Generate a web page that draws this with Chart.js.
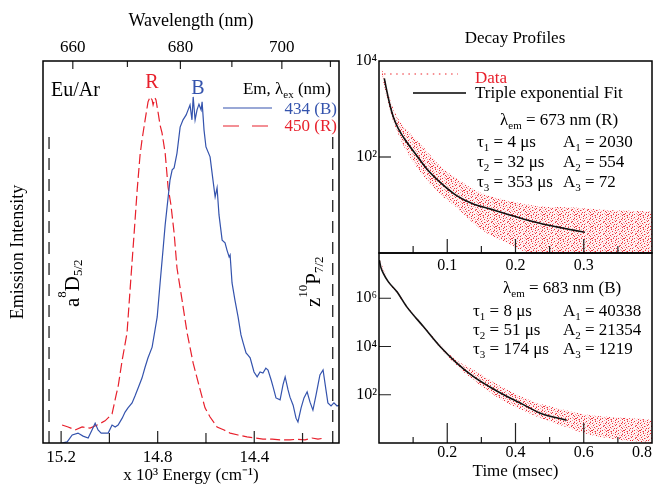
<!DOCTYPE html>
<html>
<head>
<meta charset="utf-8">
<script src="https://cdn.jsdelivr.net/npm/chart.js@4.4.1/dist/chart.umd.min.js"></script>
<style>
html, body { margin: 0; padding: 0; background: #fff; }
#wrap { position: relative; width: 657px; height: 487px; }
#wrap canvas { position: absolute; left: 0; top: 0; }
</style>
</head>
<body>
<div id="wrap">
<canvas id="spec" width="657" height="487"></canvas>
<canvas id="decayR" width="657" height="487"></canvas>
<canvas id="decayB" width="657" height="487"></canvas>
</div>
<script>
// emission spectra: energy in 10^3 cm^-1, intensity normalised
const redEnergy = [15.196, 15.171, 15.142, 15.113, 15.080, 15.051, 15.018, 14.989, 14.972, 14.964,
  14.947, 14.927, 14.910, 14.898, 14.885, 14.873, 14.865, 14.852, 14.844, 14.840,
  14.831, 14.823, 14.819, 14.811, 14.807, 14.798, 14.790, 14.782, 14.769, 14.757,
  14.745, 14.732, 14.720, 14.699, 14.678, 14.653, 14.624, 14.604, 14.583, 14.554,
  14.525, 14.500, 14.467, 14.430, 14.397, 14.364, 14.326, 14.293, 14.252, 14.223,
  14.190, 14.161, 14.136, 14.111];
const redIntensity = [0.047, 0.042, 0.034, 0.042, 0.039, 0.047, 0.058, 0.076, 0.126, 0.147,
  0.217, 0.288, 0.440, 0.545, 0.662, 0.754, 0.793, 0.846, 0.877, 0.893,
  0.906, 0.898, 0.885, 0.903, 0.898, 0.864, 0.832, 0.812, 0.759, 0.670,
  0.623, 0.550, 0.458, 0.374, 0.288, 0.209, 0.139, 0.092, 0.068, 0.042,
  0.034, 0.026, 0.021, 0.016, 0.013, 0.010, 0.010, 0.008, 0.008, 0.010,
  0.008, 0.013, 0.010, 0.013];

const blueEnergy = [15.196, 15.175, 15.154, 15.130, 15.109, 15.088, 15.072, 15.059, 15.047, 15.034,
  15.018, 15.005, 14.989, 14.976, 14.964, 14.947, 14.935, 14.923, 14.906, 14.894,
  14.881, 14.865, 14.852, 14.840, 14.823, 14.811, 14.802, 14.790, 14.778, 14.769,
  14.761, 14.749, 14.740, 14.732, 14.720, 14.707, 14.695, 14.682, 14.674, 14.666,
  14.658, 14.653, 14.645, 14.637, 14.629, 14.620, 14.616, 14.608, 14.600, 14.583,
  14.571, 14.562, 14.554, 14.546, 14.533, 14.521, 14.513, 14.504, 14.500, 14.492,
  14.480, 14.467, 14.455, 14.446, 14.434, 14.426, 14.417, 14.401, 14.388, 14.376,
  14.364, 14.352, 14.343, 14.330, 14.322, 14.310, 14.293, 14.281, 14.272, 14.260,
  14.252, 14.239, 14.227, 14.219, 14.206, 14.194, 14.181, 14.169, 14.157, 14.144,
  14.136, 14.128, 14.115, 14.103, 14.095, 14.082, 14.070, 14.057, 14.049];
const blueIntensity = [0.000, 0.003, 0.021, 0.026, 0.018, 0.013, 0.034, 0.052, 0.034, 0.026,
  0.026, 0.026, 0.047, 0.042, 0.047, 0.065, 0.081, 0.092, 0.105, 0.123,
  0.144, 0.170, 0.199, 0.223, 0.251, 0.296, 0.330, 0.419, 0.505, 0.571,
  0.618, 0.688, 0.715, 0.720, 0.759, 0.827, 0.846, 0.859, 0.872, 0.885,
  0.846, 0.906, 0.846, 0.872, 0.887, 0.872, 0.893, 0.819, 0.775, 0.749,
  0.688, 0.644, 0.668, 0.597, 0.531, 0.524, 0.505, 0.487, 0.492, 0.419,
  0.374, 0.330, 0.283, 0.262, 0.236, 0.230, 0.223, 0.186, 0.173, 0.186,
  0.183, 0.196, 0.191, 0.165, 0.147, 0.118, 0.113, 0.152, 0.173, 0.139,
  0.120, 0.099, 0.065, 0.055, 0.092, 0.118, 0.134, 0.107, 0.086, 0.126,
  0.152, 0.178, 0.191, 0.139, 0.105, 0.097, 0.105, 0.097, 0.099];

// atomic levels a8D5/2 and z10P7/2 (dashed markers)
const levelEnergy = [15.25, 14.075];
const levelRange = [0, 0.82];

// spectrum axes
const energyRange = [14.049, 15.275];
const energyTicks = [15.2, 15.0, 14.8, 14.6, 14.4, 14.2];
const energyLabels = ['15.2', '', '14.8', '', '14.4', ''];
const wavelengthTicks = [660, 670, 680, 690, 700, 710];
const wavelengthLabels = ['660', '', '680', '', '700', ''];

// decay 673 nm (R): time in msec, counts
const fitRTime = [0.0078, 0.0112, 0.0161, 0.0210, 0.0283, 0.0405, 0.0551, 0.0698, 0.0893, 0.1137,
  0.1381, 0.1625, 0.1869, 0.2113, 0.2357, 0.2602, 0.2845, 0.3016];
const fitRCounts = [4350, 2470, 1200, 684, 391, 205, 108, 57, 30, 15.7,
  10.5, 8.3, 6.5, 5.1, 4.15, 3.5, 3.0, 2.7];
const dataRTime = [0.004, 0.012, 0.020, 0.030, 0.041, 0.055, 0.065, 0.089, 0.114, 0.138,
  0.160, 0.187, 0.210, 0.236, 0.284, 0.333, 0.400];
const dataRHigh = [7080, 2820, 1120, 562, 363, 224, 162, 66, 35.5, 21.4,
  15.8, 12.6, 10.7, 9.3, 8.9, 7.9, 7.4];
const dataRLow = [5250, 1580, 603, 263, 126, 63, 40, 17, 8.9, 4.2,
  2.5, 1.66, 1.12, 1, 1, 1, 1];

// decay 683 nm (B)
const fitBTime = [0.001, 0.005, 0.0127, 0.027, 0.052, 0.081, 0.130, 0.179, 0.228, 0.276,
  0.325, 0.374, 0.423, 0.471, 0.550];
const fitBCounts = [3.8e7, 2.0e7, 1.08e7, 4.9e6, 1.9e6, 4.5e5, 6.7e4, 1.0e4, 2060, 575,
  209, 86, 39, 17.7, 8.7];
const dataBTime = [0.002, 0.027, 0.052, 0.081, 0.130, 0.179, 0.228, 0.276, 0.325, 0.374,
  0.423, 0.471, 0.550, 0.618, 0.715, 0.800];
const dataBHigh = [4.2e7, 5.5e6, 2.1e6, 5.0e5, 7.5e4, 1.2e4, 2600, 1100, 420, 166,
  76, 42, 22, 14, 11, 9];
const dataBLow = [3.4e7, 4.4e6, 1.7e6, 4.0e5, 6.0e4, 8.5e3, 1600, 420, 125, 48,
  22, 11, 4.5, 2.2, 1.3, 1];

// decay axes
const timeTicksR = [0.05, 0.1, 0.15, 0.2, 0.25, 0.3, 0.35];
const timeLabelTicksR = [0.1, 0.2, 0.3];
const timeLabelsR = ['0.1', '0.2', '0.3'];
const timeTicksB = [0.1, 0.2, 0.3, 0.4, 0.5, 0.6, 0.7];
const timeLabelTicksB = [0, 0.2, 0.4, 0.6, 0.8];
const timeLabelsB = ['', '0.2', '0.4', '0.6', '0.8'];
const countTicksR = [100, 10000];
const countLabelsR = ['10²', '10⁴'];
const countTicksB = [100, 10000, 1000000];
const countLabelsB = ['10²', '10⁴', '10⁶'];

const serif = '"Liberation Serif", "Times New Roman", serif';
const red = '#e8202c';
const blue = '#3453ad';
Chart.defaults.font.family = serif;
Chart.defaults.color = '#000';

function pairs(xs, ys) {
  return xs.map((x, i) => ({ x: x, y: ys[i] }));
}

// tile for the cloud of data dots: '#' strong red, '+' pale red
const dotTile = [
  '#..+...#....+...',
  '...#.+....#...+.',
  '.+.....#.+....#.',
  '#...#......+.#..',
  '..+...+.#.....+.',
  '.#.....#...+#...',
  '....#+.....#...+',
  '+.#......+...#..',
  '...+..#.#.....#.',
  '.#...+......+...',
  '#....#..+.#..+.#',
  '..+#....#.....#.'
];

function speckle() {
  const c = document.createElement('canvas');
  c.width = dotTile[0].length; c.height = dotTile.length;
  const g = c.getContext('2d');
  g.fillStyle = 'rgba(255,160,160,0.14)';
  g.fillRect(0, 0, c.width, c.height);
  dotTile.forEach((row, y) => {
    for (let x = 0; x < row.length; x++) {
      if (row[x] === '.') continue;
      g.fillStyle = row[x] === '#' ? 'rgba(236,30,42,0.9)' : 'rgba(245,100,105,0.6)';
      g.fillRect(x, y, 1, 1);
    }
  });
  return g.createPattern(c, 'repeat');
}

// text with sub/superscripts
function rich(ctx, x, y, parts, size, color, align, sup, sub) {
  sup = sup || -0.42; sub = sub || 0.22;
  const fontOf = m => (m ? Math.round(size * 0.64) : size) + 'px ' + serif;
  const widths = parts.map(p => { ctx.font = fontOf(p[1]); return ctx.measureText(p[0]).width; });
  const total = widths.reduce((a, b) => a + b, 0);
  let cx = align === 'right' ? x - total : align === 'center' ? x - total / 2 : x;
  ctx.save();
  ctx.fillStyle = color;
  ctx.textAlign = 'left';
  ctx.textBaseline = 'alphabetic';
  parts.forEach((p, i) => {
    ctx.font = fontOf(p[1]);
    const dy = p[1] === 'sup' ? size * sup : p[1] === 'sub' ? size * sub : 0;
    ctx.fillText(p[0], cx, y + dy);
    cx += widths[i];
  });
  ctx.restore();
}

function segment(ctx, x1, y1, x2, y2, color, width, dash) {
  ctx.save();
  ctx.strokeStyle = color;
  ctx.lineWidth = width;
  ctx.setLineDash(dash || []);
  ctx.beginPath();
  ctx.moveTo(x1, y1);
  ctx.lineTo(x2, y2);
  ctx.stroke();
  ctx.restore();
}

// inward tick marks
function tickMarks(ctx, scale, list, side) {
  ctx.save();
  ctx.strokeStyle = '#222';
  ctx.lineWidth = 1.2;
  ctx.beginPath();
  list.forEach(([v, len]) => {
    const p = scale.getPixelForValue(v);
    if (side === 'bottom') { ctx.moveTo(p, scale.top); ctx.lineTo(p, scale.top - len); }
    if (side === 'top') { ctx.moveTo(p, scale.bottom); ctx.lineTo(p, scale.bottom + len); }
    if (side === 'left') { ctx.moveTo(scale.right, p); ctx.lineTo(scale.right + len, p); }
  });
  ctx.stroke();
  ctx.restore();
}

function frame(chart) {
  const a = chart.chartArea, ctx = chart.ctx;
  ctx.save();
  ctx.strokeStyle = '#000';
  ctx.lineWidth = 1.5;
  ctx.strokeRect(a.left, a.top, a.right - a.left, a.bottom - a.top);
  ctx.restore();
}

function fixedSize(w, h) {
  return s => {
    if (w) s.width = w;
    if (h) s.height = h;
    s.paddingLeft = 0; s.paddingRight = 0;
  };
}

const noGrid = { display: false, drawTicks: false };
const noBorder = { display: false };

// ---------- emission spectra ----------
new Chart(document.getElementById('spec'), {
  type: 'line',
  data: {
    datasets: [
      { data: pairs(blueEnergy, blueIntensity), borderColor: blue, borderWidth: 1.2, pointRadius: 0 },
      { data: pairs(redEnergy, redIntensity), borderColor: red, borderWidth: 1.2, borderDash: [10, 4], pointRadius: 0 },
      { data: levelRange.map(v => ({ x: levelEnergy[0], y: v })), borderColor: '#222', borderWidth: 1.3, borderDash: [12, 9], pointRadius: 0 },
      { data: levelRange.map(v => ({ x: levelEnergy[1], y: v })), borderColor: '#222', borderWidth: 1.3, borderDash: [12, 9], pointRadius: 0 }
    ]
  },
  options: {
    responsive: false,
    animation: false,
    layout: { padding: { left: 0, right: 318, top: 0, bottom: 0 } },
    plugins: { legend: { display: false }, tooltip: { enabled: false } },
    scales: {
      x: {
        type: 'linear', position: 'bottom', reverse: true,
        min: energyRange[0], max: energyRange[1],
        grid: noGrid, border: noBorder,
        afterBuildTicks: s => { s.ticks = energyTicks.map(v => ({ value: v })); },
        afterFit: fixedSize(0, 44),
        ticks: { padding: 4, font: { size: 17 }, maxRotation: 0, autoSkip: false, callback: (v, i) => energyLabels[i] },
        title: { display: true, text: 'x 10³ Energy (cm⁻¹)', font: { size: 17 }, padding: { top: 0, bottom: 1 } }
      },
      x2: {
        type: 'linear', position: 'top', reverse: true,
        min: energyRange[0], max: energyRange[1],
        grid: noGrid, border: noBorder,
        afterBuildTicks: s => { s.ticks = wavelengthTicks.map(w => ({ value: 1e4 / w })); },
        afterFit: fixedSize(0, 61),
        ticks: { padding: 3, font: { size: 17 }, maxRotation: 0, autoSkip: false, callback: (v, i) => wavelengthLabels[i] },
        title: { display: true, text: 'Wavelength (nm)', font: { size: 18 }, padding: { top: 10, bottom: 0 } }
      },
      y: {
        min: 0, max: 1,
        grid: noGrid, border: noBorder,
        ticks: { display: false },
        afterFit: fixedSize(43, 0),
        title: { display: true, text: 'Emission Intensity', font: { size: 18 }, padding: { top: 7, bottom: 0 } }
      }
    }
  },
  plugins: [{
    id: 'specDecor',
    afterDatasetsDraw(chart) {
      const ctx = chart.ctx;
      tickMarks(ctx, chart.scales.x, energyTicks.map((v, i) => [v, energyLabels[i] ? 12 : 10]), 'bottom');
      tickMarks(ctx, chart.scales.x2, wavelengthTicks.map((w, i) => [1e4 / w, wavelengthLabels[i] ? 8 : 6]), 'top');
      frame(chart);
    },
    afterDraw(chart) {
      const ctx = chart.ctx;
      rich(ctx, 51, 96, [['Eu/Ar', '']], 20, '#000');
      rich(ctx, 152, 88, [['R', '']], 20, red, 'center');
      rich(ctx, 198, 94, [['B', '']], 20, blue, 'center');
      rich(ctx, 331, 94, [['Em, λ', ''], ['ex', 'sub'], [' (nm)', '']], 17, '#000', 'right');
      segment(ctx, 223, 108, 272, 108, blue, 1.2);
      rich(ctx, 337, 114, [['434 (B)', '']], 17, blue, 'right');
      segment(ctx, 223, 126, 272, 126, red, 1.2, [16, 13]);
      rich(ctx, 337, 131, [['450 (R)', '']], 17, red, 'right');
      ctx.save();
      ctx.translate(79, 307);
      ctx.rotate(-Math.PI / 2);
      rich(ctx, 0, 0, [['a', ''], ['8', 'sup'], ['D', ''], ['5/2', 'sub']], 21, '#000', 'left', -0.6, 0.15);
      ctx.restore();
      ctx.save();
      ctx.translate(320, 307);
      ctx.rotate(-Math.PI / 2);
      rich(ctx, 0, 0, [['z', ''], ['10', 'sup'], ['P', ''], ['7/2', 'sub']], 21, '#000', 'left', -0.6, 0.15);
      ctx.restore();
    }
  }]
});

// ---------- decay profiles ----------
const dots = speckle();

function decayDatasets(fitT, fitC, dataT, hi, lo) {
  return [
    { data: pairs(fitT, fitC), borderColor: '#111', borderWidth: 1.6, pointRadius: 0, cubicInterpolationMode: 'monotone' },
    { data: pairs(dataT, hi), borderColor: 'rgba(0,0,0,0)', pointRadius: 0, tension: 0.3, fill: false },
    { data: pairs(dataT, lo), borderColor: 'rgba(0,0,0,0)', pointRadius: 0, tension: 0.3, fill: '-1', backgroundColor: dots }
  ];
}

new Chart(document.getElementById('decayR'), {
  type: 'line',
  data: { datasets: decayDatasets(fitRTime, fitRCounts, dataRTime, dataRHigh, dataRLow) },
  options: {
    responsive: false,
    animation: false,
    layout: { padding: { left: 340, right: 5, top: 61, bottom: 0 } },
    plugins: { legend: { display: false }, tooltip: { enabled: false } },
    scales: {
      x: {
        type: 'linear', min: 0, max: 0.4,
        grid: noGrid, border: noBorder,
        afterBuildTicks: s => { s.ticks = timeLabelTicksR.map(v => ({ value: v })); },
        afterFit: fixedSize(0, 234),
        ticks: { padding: 3, font: { size: 16 }, maxRotation: 0, autoSkip: false, callback: (v, i) => timeLabelsR[i] }
      },
      y: {
        type: 'logarithmic', min: 1, max: 1e4,
        grid: noGrid, border: noBorder,
        afterBuildTicks: s => { s.ticks = countTicksR.map(v => ({ value: v })); },
        afterFit: fixedSize(39, 0),
        ticks: { padding: 2, font: { size: 16 }, autoSkip: false, callback: (v, i) => countLabelsR[i] }
      }
    }
  },
  plugins: [{
    id: 'decayRDecor',
    afterDatasetsDraw(chart) {
      const ctx = chart.ctx;
      tickMarks(ctx, chart.scales.x, timeTicksR.map(v => [v, timeLabelTicksR.includes(v) ? 14 : 7]), 'bottom');
      tickMarks(ctx, chart.scales.y, [[100, 12]], 'left');
      frame(chart);
    },
    afterDraw(chart) {
      const ctx = chart.ctx;
      rich(ctx, 515, 43, [['Decay Profiles', '']], 17, '#000', 'center');
      segment(ctx, 384, 74, 458, 74, 'rgba(240,70,75,0.8)', 1.5, [1.5, 4.6]);
      rich(ctx, 475, 83, [['Data', '']], 17, red);
      segment(ctx, 413, 93, 466, 93, '#000', 1.3);
      rich(ctx, 475, 98, [['Triple exponential Fit', '']], 17, '#000');
      rich(ctx, 500, 125, [['λ', ''], ['em', 'sub'], [' = 673 nm (R)', '']], 17, '#000');
      rich(ctx, 477, 147, [['τ', ''], ['1', 'sub'], [' = 4 μs', '']], 17, '#000');
      rich(ctx, 563, 147, [['A', ''], ['1', 'sub'], [' = 2030', '']], 17, '#000');
      rich(ctx, 477, 167, [['τ', ''], ['2', 'sub'], [' = 32 μs', '']], 17, '#000');
      rich(ctx, 563, 167, [['A', ''], ['2', 'sub'], [' = 554', '']], 17, '#000');
      rich(ctx, 477, 187, [['τ', ''], ['3', 'sub'], [' = 353 μs', '']], 17, '#000');
      rich(ctx, 563, 187, [['A', ''], ['3', 'sub'], [' = 72', '']], 17, '#000');
    }
  }]
});

new Chart(document.getElementById('decayB'), {
  type: 'line',
  data: { datasets: decayDatasets(fitBTime, fitBCounts, dataBTime, dataBHigh, dataBLow) },
  options: {
    responsive: false,
    animation: false,
    layout: { padding: { left: 340, right: 5, top: 253, bottom: 0 } },
    plugins: { legend: { display: false }, tooltip: { enabled: false } },
    scales: {
      x: {
        type: 'linear', min: 0, max: 0.8,
        grid: noGrid, border: noBorder,
        afterBuildTicks: s => { s.ticks = timeLabelTicksB.map(v => ({ value: v })); },
        afterFit: fixedSize(0, 44),
        ticks: { padding: 0, align: 'inner', font: { size: 16 }, maxRotation: 0, autoSkip: false, callback: (v, i) => timeLabelsB[i] },
        title: { display: true, text: 'Time (msec)', font: { size: 17 }, padding: { top: 0, bottom: 5 } }
      },
      y: {
        type: 'logarithmic', min: 1, max: 7.5e7,
        grid: noGrid, border: noBorder,
        afterBuildTicks: s => { s.ticks = countTicksB.map(v => ({ value: v })); },
        afterFit: fixedSize(39, 0),
        ticks: { padding: 2, font: { size: 16 }, autoSkip: false, callback: (v, i) => countLabelsB[i] }
      }
    }
  },
  plugins: [{
    id: 'decayBDecor',
    afterDatasetsDraw(chart) {
      const ctx = chart.ctx;
      tickMarks(ctx, chart.scales.x, timeTicksB.map(v => [v, timeLabelTicksB.includes(v) ? 20 : 6]), 'bottom');
      tickMarks(ctx, chart.scales.y, countTicksB.map(v => [v, 12]), 'left');
      frame(chart);
    },
    afterDraw(chart) {
      const ctx = chart.ctx;
      rich(ctx, 503, 293, [['λ', ''], ['em', 'sub'], [' = 683 nm (B)', '']], 17, '#000');
      rich(ctx, 473, 316, [['τ', ''], ['1', 'sub'], [' = 8 μs', '']], 17, '#000');
      rich(ctx, 563, 316, [['A', ''], ['1', 'sub'], [' = 40338', '']], 17, '#000');
      rich(ctx, 473, 335, [['τ', ''], ['2', 'sub'], [' = 51 μs', '']], 17, '#000');
      rich(ctx, 563, 335, [['A', ''], ['2', 'sub'], [' = 21354', '']], 17, '#000');
      rich(ctx, 473, 354, [['τ', ''], ['3', 'sub'], [' = 174 μs', '']], 17, '#000');
      rich(ctx, 563, 354, [['A', ''], ['3', 'sub'], [' = 1219', '']], 17, '#000');
    }
  }]
});
</script>
</body>
</html>
